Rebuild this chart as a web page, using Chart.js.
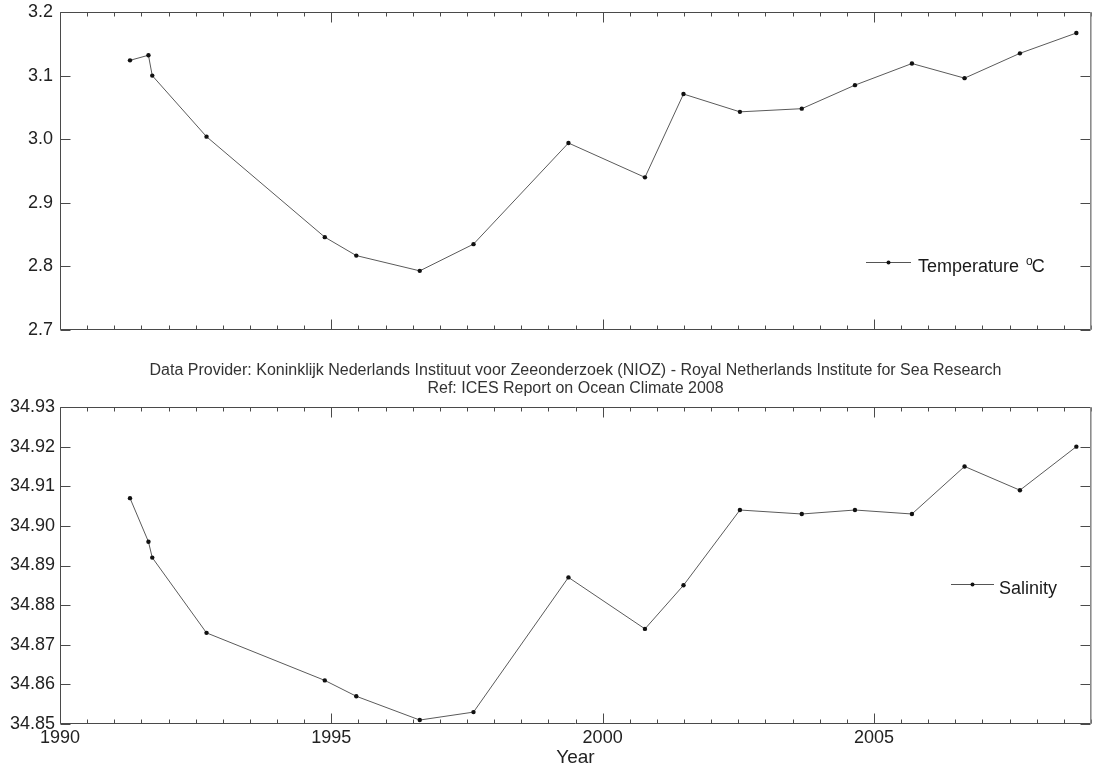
<!DOCTYPE html>
<html>
<head>
<meta charset="utf-8">
<script src="https://cdn.jsdelivr.net/npm/chart.js@4.4.1/dist/chart.umd.min.js"></script>
<style>
  body { margin: 0; background: #fff; }
  canvas { position: absolute; left: 0; }
  #tempChart { top: 0; }
  #salChart { top: 345px; }
</style>
</head>
<body>
<canvas id="tempChart" width="1104" height="345"></canvas>
<canvas id="salChart" width="1104" height="426"></canvas>
<script>
// sampling years (decimal), shared by both series
const years = [1991.29, 1991.63, 1991.70, 1992.70, 1994.88, 1995.46, 1996.63, 1997.62, 1999.37,
  2000.78, 2001.49, 2002.53, 2003.67, 2004.65, 2005.70, 2006.67, 2007.69, 2008.73];
const temperature = [3.124, 3.132, 3.100, 3.004, 2.846, 2.817, 2.793, 2.835, 2.994,
  2.940, 3.071, 3.043, 3.048, 3.085, 3.119, 3.096, 3.135, 3.167];
const salinity = [34.907, 34.896, 34.892, 34.873, 34.861, 34.857, 34.851, 34.853, 34.887,
  34.874, 34.885, 34.904, 34.903, 34.904, 34.903, 34.915, 34.909, 34.920];

const yearTicks = [1990, 1995, 2000, 2005];
const tempTicks = [2.7, 2.8, 2.9, 3.0, 3.1, 3.2];
const salTicks = [34.85, 34.86, 34.87, 34.88, 34.89, 34.90, 34.91, 34.92, 34.93];

const FONT = "Arial, 'Liberation Sans', Helvetica, sans-serif";
Chart.defaults.font.family = FONT;
Chart.defaults.color = "#222";

// matlab style box with inward ticks
const framePlugin = {
  id: "frame",
  afterDraw(chart) {
    const { ctx, chartArea: a, scales } = chart;
    const x = scales.x, y = scales.y;
    const L = Math.round(a.left) + 0.5, R = Math.round(a.right) - 0.5;
    const T = Math.round(a.top) + 0.5, B = Math.round(a.bottom) - 0.5;
    ctx.save();
    ctx.strokeStyle = "#4a4a4a";
    ctx.lineWidth = 1;
    ctx.beginPath();
    ctx.moveTo(R, T); ctx.lineTo(L, T); ctx.lineTo(L, B); ctx.lineTo(R, B);
    for (let v = x.min; v <= x.max + 1e-6; v += 0.5) {
      const px = Math.round(x.getPixelForValue(v)) + 0.5;
      const len = yearTicks.includes(v) ? 10 : 4;
      ctx.moveTo(px, T); ctx.lineTo(px, T + len);
      ctx.moveTo(px, B); ctx.lineTo(px, B - len);
    }
    y.ticks.forEach(t => {
      const py = Math.round(y.getPixelForValue(t.value)) + 0.5;
      ctx.moveTo(L, py); ctx.lineTo(L + 10, py);
      ctx.moveTo(R, py); ctx.lineTo(R - 10, py);
    });
    ctx.stroke();
    ctx.strokeStyle = "#8c8c8c";
    ctx.lineWidth = 1.6;
    ctx.beginPath();
    ctx.moveTo(R + 0.3, T - 0.5); ctx.lineTo(R + 0.3, B + 0.5);
    ctx.stroke();
    ctx.restore();
  }
};

// legend sample: line with a dot, then the label
const keyPlugin = {
  id: "key",
  afterDraw(chart, args, o) {
    const { ctx } = chart;
    ctx.save();
    ctx.strokeStyle = "#555";
    ctx.lineWidth = 1;
    ctx.beginPath();
    ctx.moveTo(o.x, o.y + 0.5); ctx.lineTo(o.x + o.w, o.y + 0.5);
    ctx.stroke();
    ctx.fillStyle = "#111";
    ctx.beginPath();
    ctx.arc(o.x + o.w / 2, o.y + 0.5, 2, 0, Math.PI * 2);
    ctx.fill();
    ctx.fillStyle = "#1a1a1a";
    ctx.textBaseline = "alphabetic";
    ctx.font = "18px " + FONT;
    let tx = o.tx;
    ctx.fillText(o.text, tx, o.y + 10);
    if (o.sup) {
      tx += ctx.measureText(o.text).width + 7;
      ctx.font = "12px " + FONT;
      ctx.fillText(o.sup, tx, o.y + 3);
      tx += ctx.measureText(o.sup).width - 1;
      ctx.font = "18px " + FONT;
      ctx.fillText(o.unit, tx, o.y + 10);
    }
    ctx.restore();
  }
};

function seriesData(vals) {
  return years.map((x, i) => ({ x: x, y: vals[i] }));
}

function dataset(vals) {
  return {
    data: seriesData(vals),
    borderColor: "#5a5a5a",
    borderWidth: 1,
    pointRadius: 2.2,
    pointBackgroundColor: "#111",
    pointBorderWidth: 0,
    tension: 0,
    fill: false
  };
}

function fixY(s) {
  s.width = 60;
  s.paddingTop = 0;
  s.paddingBottom = 0;
}

new Chart(document.getElementById("tempChart"), {
  type: "line",
  data: { datasets: [dataset(temperature)] },
  options: {
    responsive: false,
    animation: false,
    layout: { padding: { top: 12, right: 13, left: 0, bottom: 0 } },
    plugins: {
      legend: { display: false },
      tooltip: { enabled: false },
      key: { x: 866, w: 45, y: 262, tx: 918, text: "Temperature", sup: "o", unit: "C" }
    },
    scales: {
      x: {
        type: "linear", min: 1990, max: 2009,
        grid: { display: false }, border: { display: false },
        ticks: { display: false },
        afterBuildTicks: s => { s.ticks = yearTicks.map(v => ({ value: v })); },
        afterFit: s => { s.height = 15; }
      },
      y: {
        min: 2.7, max: 3.2,
        grid: { display: false, drawTicks: false }, border: { display: false },
        ticks: { font: { size: 18 }, padding: 7, callback: v => v.toFixed(1) },
        afterBuildTicks: s => { s.ticks = tempTicks.map(v => ({ value: v })); },
        afterFit: fixY
      }
    }
  },
  plugins: [framePlugin, keyPlugin]
});

new Chart(document.getElementById("salChart"), {
  type: "line",
  data: { datasets: [dataset(salinity)] },
  options: {
    responsive: false,
    animation: false,
    layout: { padding: { top: 0, right: 13, left: 0, bottom: 0 } },
    plugins: {
      legend: { display: false },
      tooltip: { enabled: false },
      title: {
        display: true,
        fullSize: false,
        text: [
          "Data Provider: Koninklijk Nederlands Instituut voor Zeeonderzoek (NIOZ) - Royal Netherlands Institute for Sea Research",
          "Ref: ICES Report on Ocean Climate 2008"
        ],
        color: "#333",
        font: { size: 16, weight: "normal", lineHeight: "18px" },
        padding: { top: 17, bottom: 9 }
      },
      key: { x: 951, w: 43, y: 239, tx: 999, text: "Salinity" }
    },
    scales: {
      x: {
        type: "linear", min: 1990, max: 2009,
        grid: { display: false, drawTicks: false }, border: { display: false },
        ticks: { font: { size: 18 }, padding: 3, maxRotation: 0, callback: v => String(v) },
        afterBuildTicks: s => { s.ticks = yearTicks.map(v => ({ value: v })); },
        title: { display: true, text: "Year", font: { size: 19 }, padding: { top: 0, bottom: 2 } },
        afterFit: s => { s.height = 47; }
      },
      y: {
        min: 34.85, max: 34.93,
        grid: { display: false, drawTicks: false }, border: { display: false },
        ticks: { font: { size: 18 }, padding: 5, callback: v => v.toFixed(2) },
        afterBuildTicks: s => { s.ticks = salTicks.map(v => ({ value: v })); },
        afterFit: fixY
      }
    }
  },
  plugins: [framePlugin, keyPlugin]
});
</script>
</body>
</html>
